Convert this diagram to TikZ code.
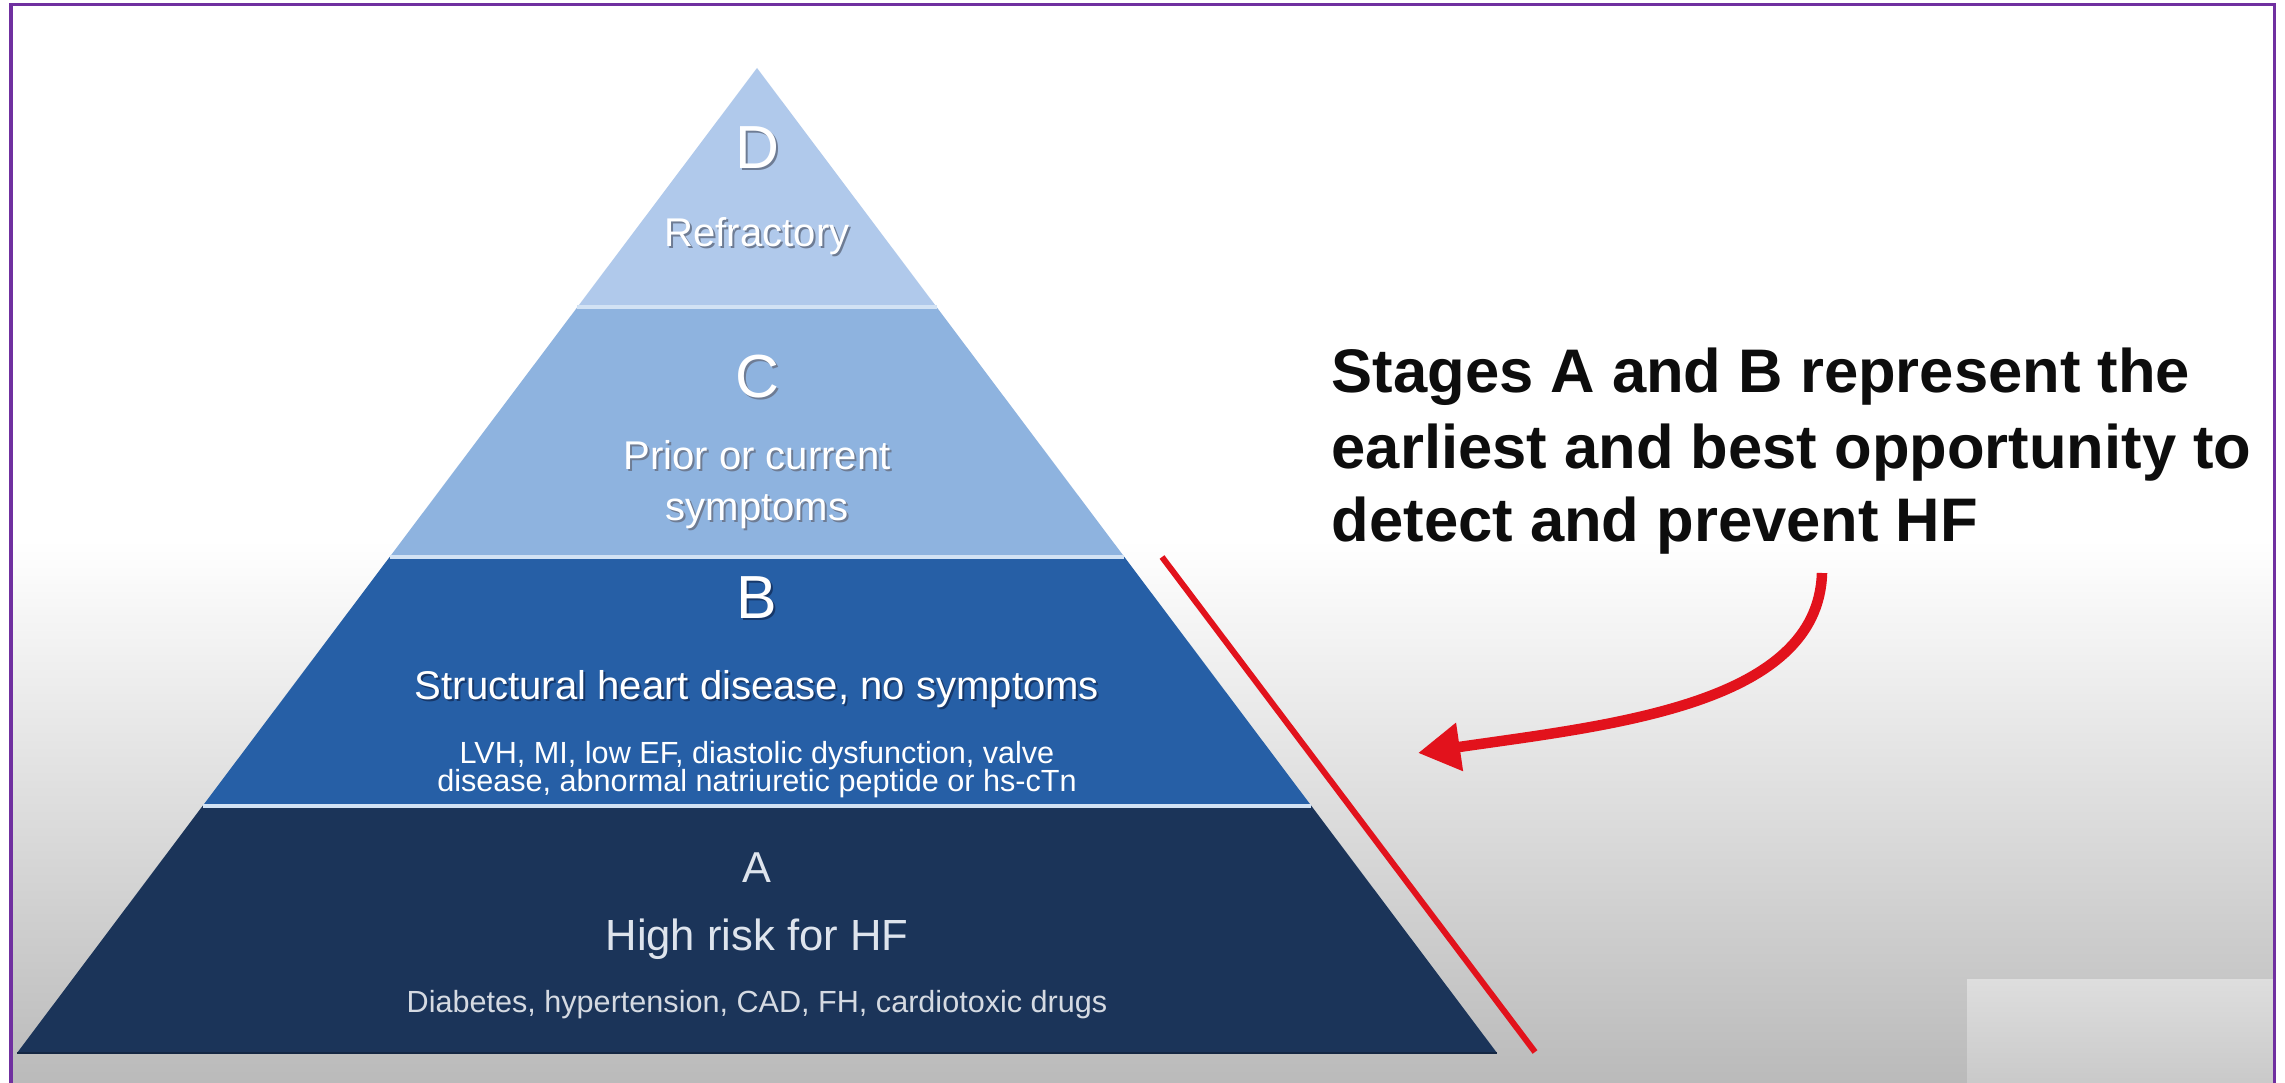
\documentclass[tikz,border=0pt]{standalone}
\usepackage{fontspec}
\setmainfont{Liberation Sans}
\usetikzlibrary{calc, arrows.meta}

\definecolor{stageD}{RGB}{176,201,235}
\definecolor{stageC}{RGB}{142,179,223}
\definecolor{stageB}{RGB}{38,95,166}
\definecolor{stageA}{RGB}{27,52,89}
\definecolor{gapblue}{RGB}{210,226,244}
\definecolor{bggray}{RGB}{186,186,186}
\definecolor{framepurple}{RGB}{112,48,160}
\definecolor{hfred}{RGB}{226,18,28}
\definecolor{shadowgray}{RGB}{110,124,148}
\definecolor{shadowblue}{RGB}{22,55,105}
\definecolor{paletext}{RGB}{222,228,237}

% label with a soft drop shadow: style, shadow colour, name, position, text
\newcommand{\shadowlabel}[5]{%
  \node[#1, text=#2, anchor=base] (#3s) at ($(#4)+(2,2)$) {#5};
  \node[#1, anchor=base] (#3) at (#4) {#5};}

\begin{document}
\begin{tikzpicture}[x=0.01cm, y=-0.01cm,
    stagetext/.style={text=white, inner sep=0pt},
    bigletter/.style={stagetext, font=\fontsize{17.3}{20}\selectfont},
    stagetitle/.style={stagetext, font=\fontsize{11.4}{13}\selectfont},
    stagesmall/.style={stagetext, font=\fontsize{8.7}{10}\selectfont},
    note/.style={inner sep=0pt, anchor=base west, text=black!95,
      font=\bfseries\fontsize{17.5}{21}\selectfont},
    redline/.style={hfred, line width=0.06cm},
    hfarrow/.style={hfred, line width=0.105cm,
      -{Triangle[length=0.42cm, width=0.46cm]}},
    gapline/.style={gapblue, line width=0.04cm}]
  \useasboundingbox (0,0) rectangle (2285,1083);

  % background and frame
  \fill[white] (0,0) rectangle (2285,1083);
  \shade[top color=white, bottom color=bggray] (11,540) rectangle (2274,1083);
  \shade[top color=black!13, bottom color=black!21] (1967,979) rectangle (2273,1083);
  \draw[framepurple, line width=0.03cm] (11,1083) -- (11,5) -- (2274,5) -- (2274,1083);

  % pyramid
  \coordinate (apex) at (757,68);
  \coordinate (bl) at (17,1053);
  \coordinate (br) at (1497,1053);
  \coordinate (dcl) at ($(apex)!0.2426!(bl)$);
  \coordinate (dcr) at ($(apex)!0.2426!(br)$);
  \coordinate (cbl) at ($(apex)!0.4964!(bl)$);
  \coordinate (cbr) at ($(apex)!0.4964!(br)$);
  \coordinate (bal) at ($(apex)!0.7492!(bl)$);
  \coordinate (bar) at ($(apex)!0.7492!(br)$);

  \fill[stageD] (apex)--(dcr)--(dcl)--cycle;
  \fill[stageC] (dcl)--(dcr)--(cbr)--(cbl)--cycle;
  \fill[stageB] (cbl)--(cbr)--(bar)--(bal)--cycle;
  \fill[stageA] (bal)--(bar)--(br)--(bl)--cycle;
  \draw[gapline] (dcl) -- (dcr);
  \draw[gapline] (cbl) -- (cbr);
  \draw[gapline] (bal) -- (bar);
  \draw[stageA!75!black, line width=0.02cm] (bl) -- (br);

  % stage labels
  \shadowlabel{bigletter}{shadowgray}{letterD}{757,169}{D}
  \shadowlabel{stagetitle}{shadowgray}{titleD}{757,247}{Refractory}
  \shadowlabel{bigletter}{shadowgray}{letterC}{757,398}{C}
  \shadowlabel{stagetitle}{shadowgray}{titleC}{757,470}{Prior or current}
  \shadowlabel{stagetitle}{shadowgray}{titleCb}{757,521}{symptoms}
  \shadowlabel{bigletter}{shadowblue}{letterB}{757,619}{B}
  \shadowlabel{stagetitle}{shadowblue}{titleB}{757,700}{Structural heart disease, no symptoms}
  \node[stagesmall, anchor=base] (detailB) at (757,764) {LVH, MI, low EF, diastolic dysfunction, valve};
  \node[stagesmall, anchor=base] (detailBb) at (757,792) {disease, abnormal natriuretic peptide or hs-cTn};
  \node[stagetext, text=paletext, anchor=base, font=\fontsize{12.3}{15}\selectfont] (letterA) at (757,883) {A};
  \node[stagetext, text=paletext, anchor=base, font=\fontsize{12.4}{15}\selectfont] (titleA) at (757,951) {High risk for HF};
  \node[stagesmall, text=paletext!90!gray, anchor=base] (detailA) at (757,1012) {Diabetes, hypertension, CAD, FH, cardiotoxic drugs};

  % bracket and note
  \coordinate (redtop) at (1162,557);
  \coordinate (redbottom) at (1535,1052);
  \draw[redline] (redtop) -- (redbottom);

  \node[note] (note1) at (1331,393) {Stages A and B represent the};
  \node[note] (note2) at (1331,469) {earliest and best opportunity to};
  \node[note] (note3) at (1331,542) {detect and prevent HF};

  \coordinate (arrowstart) at (1822,573);
  \coordinate (arrowtip) at (1418,753);
  \draw[hfarrow] (arrowstart) .. controls (1818,705) and (1610,725) .. (arrowtip);
\end{tikzpicture}
\end{document}
